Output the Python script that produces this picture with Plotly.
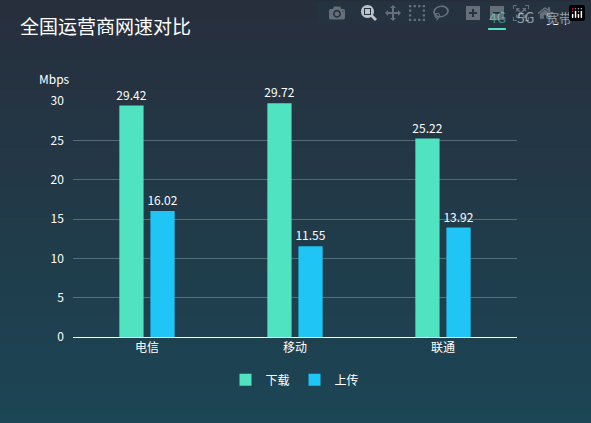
import plotly.graph_objects as go

categories = ["电信", "移动", "联通"]
download = [29.42, 29.72, 25.22]
upload = [16.02, 11.55, 13.92]

fig = go.Figure()
for name, vals, col in [("下载", download, "#4fe3c1"), ("上传", upload, "#1fc6f5")]:
    fig.add_bar(x=categories, y=vals, name=name, marker_color=col, marker_line_width=0,
                text=[f"{v:.2f}" for v in vals], textposition="outside",
                constraintext="none", cliponaxis=False,
                textfont=dict(color="#ffffff", size=12))

shapes = []
n = 60
top = (40, 46, 60)
bot = (24, 78, 94)
for i in range(n):
    t = i / (n - 1)
    c = tuple(int(top[k] + (bot[k] - top[k]) * t) for k in range(3))
    shapes.append(dict(type="rect", xref="paper", yref="paper", layer="below",
                       x0=-1, x1=2, y0=1.5 - (i + 1) * 2.5 / n, y1=1.5 - i * 2.5 / n + 0.01,
                       line_width=0, fillcolor=f"rgb{c}"))
shapes.append(dict(type="line", xref="paper", yref="paper", x0=0.935, x1=0.975,
                   y0=1.305, y1=1.305, line=dict(color="#4fe3c1", width=2)))

fig.update_layout(
    width=591, height=423,
    margin=dict(l=73, r=74, t=101, b=86),
    paper_bgcolor="#243544", plot_bgcolor="rgba(0,0,0,0)",
    font=dict(family="Noto Sans CJK SC", color="#ffffff", size=12),
    barmode="group", bargap=0.58, bargroupgap=0.22,
    shapes=shapes,
    showlegend=True,
    legend=dict(orientation="h", x=0.5, xanchor="center", y=-0.12, yanchor="top",
                bgcolor="rgba(0,0,0,0)", font=dict(color="#ffffff", size=12)),
    xaxis=dict(showgrid=False, showline=True, linecolor="#ffffff", ticks="",
               tickfont=dict(color="#ffffff", size=12)),
    yaxis=dict(range=[0, 30], dtick=5, gridcolor="rgba(180,200,210,0.35)",
               zeroline=False, showline=False, tickfont=dict(color="#ffffff", size=12),
               ticksuffix="   "),
    annotations=[
        dict(text="全国运营商网速对比", xref="paper", yref="paper", x=-0.125, y=1.32,
             xanchor="left", yanchor="middle", showarrow=False, font=dict(size=19, color="#ffffff")),
        dict(text="Mbps", xref="paper", yref="paper", x=-0.08, y=1.095, xanchor="left",
             yanchor="middle", showarrow=False, font=dict(size=12, color="#ffffff")),
        dict(text="4G", xref="paper", yref="paper", x=0.955, y=1.355, xanchor="center",
             yanchor="middle", showarrow=False, font=dict(size=14, color="#4fe3c1")),
        dict(text="5G", xref="paper", yref="paper", x=1.02, y=1.355, xanchor="center",
             yanchor="middle", showarrow=False, font=dict(size=14, color="#ffffff")),
        dict(text="宽带", xref="paper", yref="paper", x=1.095, y=1.355, xanchor="center",
             yanchor="middle", showarrow=False, font=dict(size=13, color="#ffffff")),
    ],
)
fig.write_html("out.html")
with open("out.html", encoding="utf-8") as f:
    html = f.read()
html = html.replace("<body>", "<body style=\"margin:0;background:#243544\">", 1)
with open("out.html", "w", encoding="utf-8") as f:
    f.write(html)
